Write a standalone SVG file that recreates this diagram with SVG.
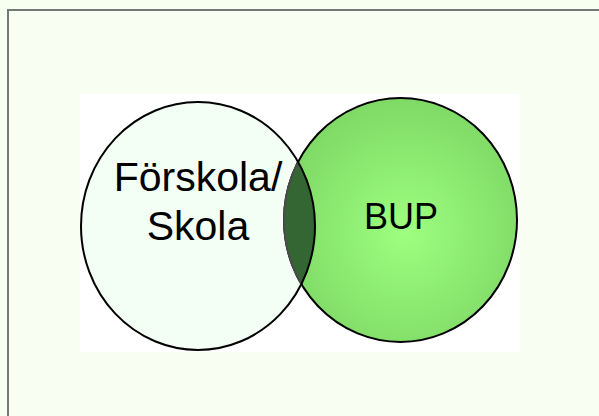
<svg xmlns="http://www.w3.org/2000/svg" width="599" height="416" viewBox="0 0 599 416">
  <style>
    .lbl { font-family: "Liberation Sans", Arial, sans-serif; fill: #000; text-anchor: middle; }
    .ring { fill: none; stroke: #000; stroke-width: 2; }
  </style>
  <defs>
    <radialGradient id="bupGrad" cx="0.52" cy="0.55" r="0.55">
      <stop offset="0" stop-color="#9dff7f"/>
      <stop offset="1" stop-color="#7fd966"/>
    </radialGradient>
    <clipPath id="leftClip">
      <ellipse cx="198" cy="226" rx="117" ry="124"/>
    </clipPath>
  </defs>
  <rect x="0" y="0" width="599" height="416" fill="#f7fff0"/>
  <rect x="8" y="10" width="600" height="420" fill="#f8fff2" stroke="#777" stroke-width="2"/>
  <rect x="80" y="94" width="440" height="258" fill="#ffffff"/>
  <g id="node-forskola">
    <ellipse cx="198" cy="226" rx="117" ry="124" fill="#f3fff5"/>
  </g>
  <g id="node-bup">
    <ellipse cx="400.5" cy="220" rx="116.5" ry="122" fill="url(#bupGrad)" stroke="#000" stroke-width="2"/>
  </g>
  <g id="node-overlap">
    <ellipse cx="400.5" cy="220" rx="116.5" ry="122" fill="#336633" stroke="#4a4a4a" stroke-width="2" clip-path="url(#leftClip)"/>
  </g>
  <g id="connectors">
    <ellipse class="ring" cx="198" cy="226" rx="117" ry="124"/>
  </g>
  <text class="lbl" x="198" y="191" font-size="41">Förskola/</text>
  <text class="lbl" x="198" y="240" font-size="41">Skola</text>
  <text class="lbl" x="401" y="229" font-size="36">BUP</text>
</svg>
